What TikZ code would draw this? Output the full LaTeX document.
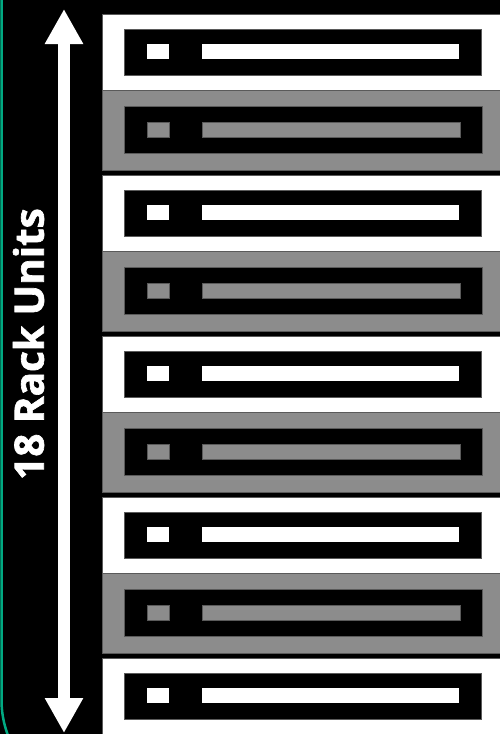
\documentclass[tikz,border=0pt]{standalone}
\usepackage{fontspec}
\setsansfont{Open Sans}[BoldFeatures={FakeBold=1.6}]
\usetikzlibrary{arrows.meta}
\definecolor{mTeal}{HTML}{01A982}
\definecolor{mGray}{HTML}{8C8C8C}
\definecolor{mEdge}{HTML}{5A5A5A}

\begin{document}
\begin{tikzpicture}[x=1pt, y=-1pt, rim/.style={draw=mEdge, line width=0.8pt}]
    \useasboundingbox (0,0) rectangle (500,734);
    \fill[black] (0,0) rectangle (500,734);
    \draw[mTeal, line width=2.5pt] (1.5,-5) -- (1.5,700) arc[start angle=180, end angle=160, radius=100];
    % white rack units
    \foreach \k in {0,...,4} {
      \pgfmathsetmacro{\u}{14+161*\k}
      \filldraw[fill=white, rim] (102,\u) rectangle ++(400,77);
      \filldraw[fill=black, rim] (124,\u+15) rectangle (481,\u+61);
      \fill[white] (147,\u+30) rectangle (169,\u+45);
      \fill[white] (202,\u+30) rectangle (459,\u+45);
    }
    % gray rack units
    \foreach \k in {0,...,3} {
      \pgfmathsetmacro{\u}{90+161*\k}
      \filldraw[fill=mGray, rim] (102,\u) rectangle ++(400,80);
      \filldraw[fill=black, rim] (124,\u+16) rectangle (482,\u+63);
      \filldraw[fill=mGray, rim] (147,\u+32) rectangle (169,\u+47);
      \filldraw[fill=mGray, rim] (202,\u+32) rectangle (460,\u+47);
    }
    \coordinate (top) at (64,9);
    \coordinate (bot) at (64,733);
    \draw[white, line width=12pt, {Triangle[length=35pt,width=36pt]}-{Triangle[length=35pt,width=36pt]}] (top) -- (bot);
    \node[rotate=90, white, inner sep=0pt, font=\sffamily\bfseries\fontsize{40.5}{40.5}\selectfont] (label) at (28.5,344) {18 Rack Units};
  \end{tikzpicture}
\end{document}
